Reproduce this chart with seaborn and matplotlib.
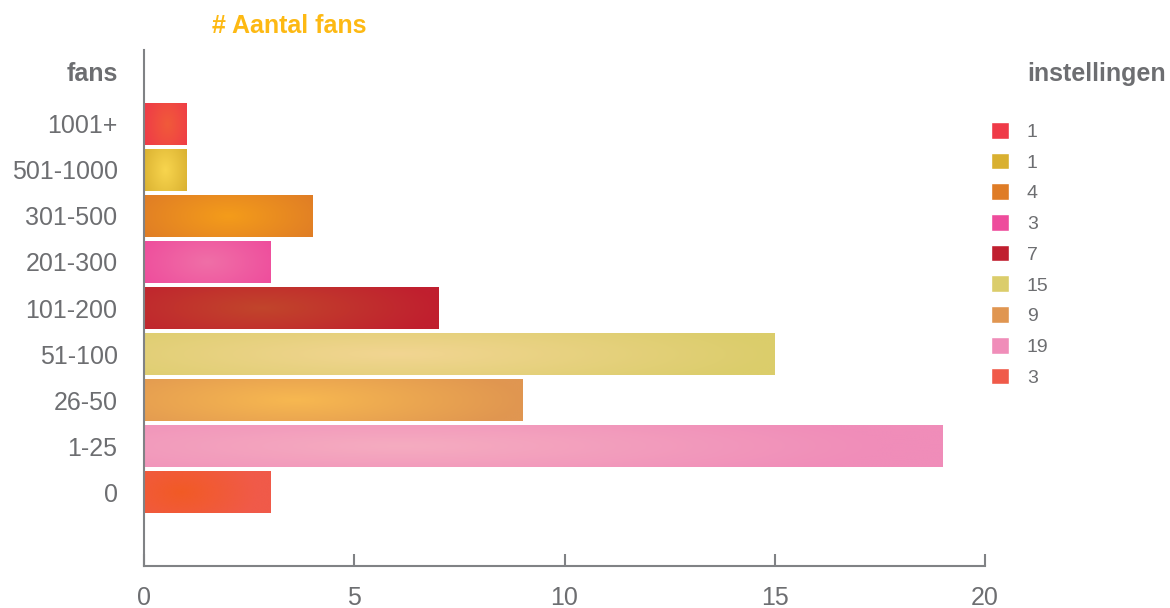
import numpy as np
import pandas as pd
import matplotlib
matplotlib.use('Agg')
import matplotlib.pyplot as plt
import matplotlib.patches as mpatches
from matplotlib.colors import to_rgb
import seaborn as sns

# data
categories = ['1001+', '501-1000', '301-500', '201-300', '101-200', '51-100', '26-50', '1-25', '0']
values = [1, 1, 4, 3, 7, 15, 9, 19, 3]

# kleuren: rand van de balk en het lichte midden van de gradient
edge_colors = ['#EF3A48', '#D9B030', '#DF7C26', '#EE4C9C', '#C01F2F', '#DBCD6B', '#E09651', '#F08DB9', '#F05A49']
mid_colors = ['#F15A3A', '#F8D54E', '#F49C1A', '#F06FA7', '#C2452B', '#F2D592', '#F7B850', '#F5ACC0', '#F25A25']
grad_cx = [0.55, 0.5, 0.5, 0.5, 0.4, 0.4, 0.4, 0.32, 0.29]

grey = '#6D6E71'
df = pd.DataFrame({'fans': categories, 'instellingen': values})

sns.set_style('white')
plt.rcParams['font.family'] = ['Liberation Sans', 'DejaVu Sans']

fig = plt.figure(figsize=(11.7, 6.08), dpi=100)
ax = fig.add_axes([144 / 1170, 1 - 566 / 608, (985 - 144) / 1170, 516 / 608])

sns.barplot(data=df, x='instellingen', y='fans', hue='fans', order=categories,
            hue_order=categories, palette=edge_colors, width=0.91, legend=False,
            saturation=1, ax=ax)

# radiale gradient in elke balk
u, v = np.meshgrid(np.linspace(0, 1, 200), np.linspace(0, 1, 80))
for cont, ce, cm, cx in zip(ax.containers, edge_colors, mid_colors, grad_cx):
    for p in cont.patches:
        d = np.clip(np.sqrt((u - cx) ** 2 + (0.6 * (v - 0.5)) ** 2) / 0.6, 0, 1)[..., None]
        img = np.array(to_rgb(cm)) * (1 - d) + np.array(to_rgb(ce)) * d
        x0, y0, w, h = p.get_x(), p.get_y(), p.get_width(), p.get_height()
        im = ax.imshow(img, extent=[x0, x0 + w, y0 + h, y0], aspect='auto',
                       zorder=p.get_zorder() + 0.1, interpolation='bilinear')
        im.set_clip_path(p)

ax.set_xlim(0, 20)
ax.set_ylim(9.6, -1.6)
ax.set_xticks([0, 5, 10, 15, 20])
ax.set_xlabel('')
ax.set_ylabel('')

for s in ['top', 'right']:
    ax.spines[s].set_visible(False)
for s in ['left', 'bottom']:
    ax.spines[s].set_color('#808285')
    ax.spines[s].set_linewidth(1.5)

ax.tick_params(axis='x', direction='in', length=9, width=1.5, color='#808285',
               labelsize=18, labelcolor=grey, pad=14.5, bottom=True)
ax.tick_params(axis='y', length=0, labelsize=18, labelcolor=grey, pad=19)

fig.text(118 / 1170, 1 - 74 / 608, 'fans', ha='right', va='center',
         fontsize=18, fontweight='bold', color=grey)
fig.text(289 / 1170, 1 - 26 / 608, '# Aantal fans', ha='center', va='center',
         fontsize=18, fontweight='bold', color='#FDB913')
fig.text(1097 / 1170, 1 - 74 / 608, 'instellingen', ha='center', va='center',
         fontsize=18, fontweight='bold', color=grey)

handles = [mpatches.Patch(facecolor=c) for c in edge_colors]
fig.legend(handles, [str(v) for v in values], loc='upper left',
           bbox_to_anchor=(983 / 1170, 1 - 114 / 608), frameon=False,
           fontsize=14, labelcolor=grey, handlelength=0.95, handleheight=0.95,
           handletextpad=0.9, labelspacing=0.6, borderaxespad=0)

fig.savefig('out.png', dpi=100)
